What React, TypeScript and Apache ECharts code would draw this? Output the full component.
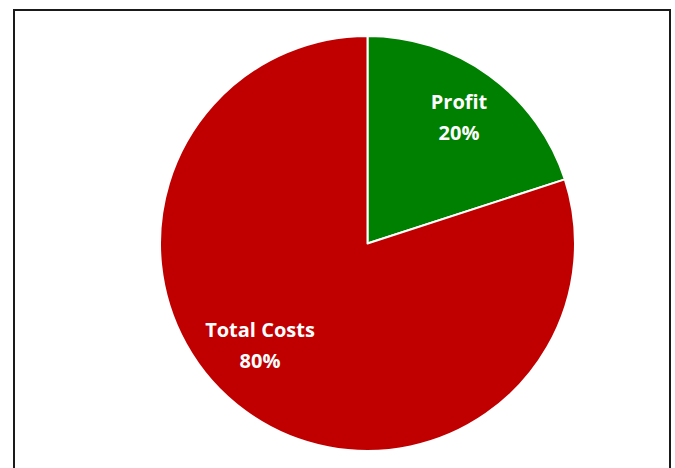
import React, { useEffect, useRef } from "react";
import * as echarts from "echarts";

const categories = ["Profit", "Total Costs"];
const values = [20, 80];
const colors = ["#008000", "#C00000"];

export default function App() {
  const ref = useRef<HTMLDivElement>(null);
  useEffect(() => {
    if (!ref.current) return;
    const chart = echarts.init(ref.current, null, { renderer: "svg" });
    const labelSpots = [
      { x: 459, y: 117 },
      { x: 260, y: 345 },
    ];
    chart.setOption({
      animation: false,
      backgroundColor: "#ffffff",
      graphic: [
        {
          type: "rect",
          shape: { x: 14, y: 10, width: 656, height: 480 },
          style: { fill: "none", stroke: "#1a1a1a", lineWidth: 2 },
          z: 10,
        },
      ],
      series: [
        {
          type: "pie",
          center: [367.5, 243.5],
          radius: [0, 207.5],
          startAngle: 90,
          clockwise: true,
          avoidLabelOverlap: false,
          itemStyle: { borderColor: "#ffffff", borderWidth: 2 },
          label: {
            show: true,
            position: "inside",
            formatter: "{b}\n{d}%",
            color: "#ffffff",
            fontFamily: "Open Sans",
            fontWeight: "bold",
            fontSize: 20,
            lineHeight: 31,
            align: "center",
          },
          labelLayout: (params: any) => {
            const p = labelSpots[params.dataIndex];
            return { x: p.x, y: p.y, align: "center", verticalAlign: "middle" };
          },
          labelLine: { show: false },
          emphasis: { disabled: true },
          data: categories.map((c, i) => ({
            name: c,
            value: values[i],
            itemStyle: { color: colors[i] },
          })),
        },
      ],
    });
    return () => chart.dispose();
  }, []);
  return (
    <div
      ref={ref}
      style={{ position: "fixed", left: 0, top: 0, width: 675, height: 468 }}
    />
  );
}
